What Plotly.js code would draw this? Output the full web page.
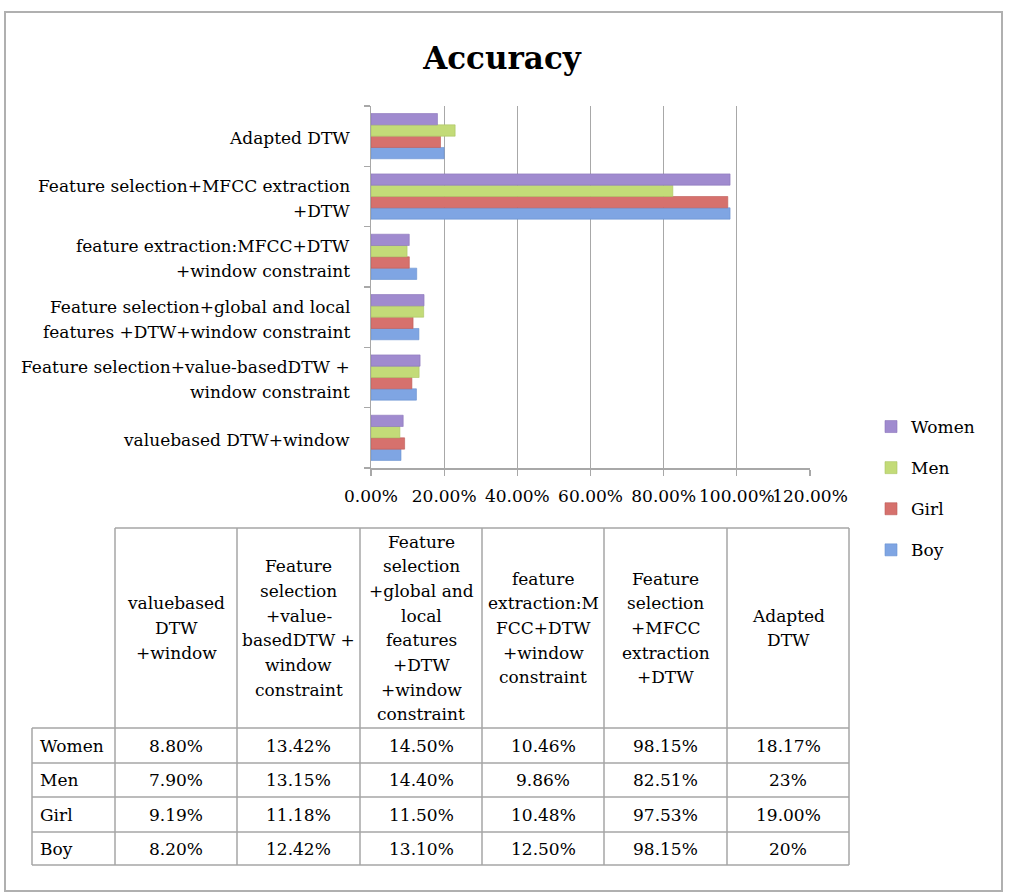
<!DOCTYPE html>
<html><head><meta charset="utf-8">
<script src="https://cdn.plot.ly/plotly-3.0.1.min.js"></script>
<style>html,body{margin:0;padding:0;background:#fff}#chart{width:1012px;height:895px}</style>
</head><body><div id="chart"></div>
<script>
// ---- data ----
const categories = [
  "valuebased DTW+window",
  "Feature selection+value-basedDTW + window constraint",
  "Feature selection+global and local features +DTW+window constraint",
  "feature extraction:MFCC+DTW +window constraint",
  "Feature selection+MFCC extraction +DTW",
  "Adapted DTW"
];
const axisLabels = [
  "valuebased DTW+window",
  "Feature selection+value-basedDTW +<br>window constraint",
  "Feature selection+global and local<br>features +DTW+window constraint",
  "feature extraction:MFCC+DTW<br>+window constraint",
  "Feature selection+MFCC extraction<br>+DTW",
  "Adapted DTW"
];
const headerLabels = [
  "valuebased<br>DTW<br>+window",
  "Feature<br>selection<br>+value-<br>basedDTW +<br>window<br>constraint",
  "Feature<br>selection<br>+global and<br>local<br>features<br>+DTW<br>+window<br>constraint",
  "feature<br>extraction:M<br>FCC+DTW<br>+window<br>constraint",
  "Feature<br>selection<br>+MFCC<br>extraction<br>+DTW",
  "Adapted<br>DTW"
];
const seriesNames = ["Women", "Men", "Girl", "Boy"];
const women = ["8.80", "13.42", "14.50", "10.46", "98.15", "18.17"];
const men   = ["7.90", "13.15", "14.40", "9.86", "82.51", "23"];
const girl  = ["9.19", "11.18", "11.50", "10.48", "97.53", "19.00"];
const boy   = ["8.20", "12.42", "13.10", "12.50", "98.15", "20"];
const xTicks = [0, 20, 40, 60, 80, 100, 120];
const xTickLabels = ["0.00%", "20.00%", "40.00%", "60.00%", "80.00%", "100.00%", "120.00%"];

// ---- styling / layout ----
const seriesValues = {Women: women, Men: men, Girl: girl, Boy: boy};
const seriesColors = {Women: "#a08bcf", Men: "#c3db78", Girl: "#d6716d", Boy: "#7fa5e3"};
const seriesLines  = {Women: "#8a74bb", Men: "#aac462", Girl: "#bd5b58", Boy: "#6890d0"};
const FONT = "'DejaVu Serif', serif";
const FS = 17;
const GRID = "#a8a8a8";
const W = 1012, H = 895;
const L = 371, R = 810, T = 106, B = 468;
const px = x => (x - L) / (R - L);
const py = y => (B - y) / (B - T);

// bars: draw Boy first so it sits at the bottom of each group
const traces = seriesNames.slice().reverse().map(name => ({
  type: "bar",
  orientation: "h",
  name: name,
  legendgroup: name,
  legendrank: seriesNames.indexOf(name) + 1,
  y: categories,
  x: seriesValues[name].map(parseFloat),
  marker: {color: seriesColors[name], line: {color: seriesLines[name], width: 0.6}},
  hoverinfo: "x+name"
}));

const shapes = [];
const annotations = [];

// outer frame
shapes.push({type: "rect", xref: "paper", yref: "paper",
  x0: px(5), x1: px(1002), y0: py(891), y1: py(12),
  line: {color: "#b0b0b0", width: 2}, layer: "below"});

// category labels on the y axis
axisLabels.forEach((lab, i) => {
  const lines = lab.split("<br>");
  const n = lines.length;
  lines.forEach((t, k) => {
    annotations.push({xref: "paper", yref: "y", x: px(352), y: categories[i],
      xanchor: "right", yanchor: "middle", showarrow: false, text: t,
      yshift: -2 - (k - (n - 1) / 2) * 25,
      font: {family: FONT, size: FS, color: "#000"}});
  });
});

// data table
const colX = [32, 115, 237, 360, 482, 604, 727, 849];
const rowY = [528, 728, 763, 797, 832, 865];
const tl = {color: "#a6a6a6", width: 1.5};
const hline = (x0, x1, y) => shapes.push({type: "line", xref: "paper", yref: "paper",
  x0: px(x0), x1: px(x1), y0: py(y), y1: py(y), line: tl});
const vline = (x, y0, y1) => shapes.push({type: "line", xref: "paper", yref: "paper",
  x0: px(x), x1: px(x), y0: py(y0), y1: py(y1), line: tl});
hline(colX[1], colX[7], rowY[0]);
for (let r = 1; r < rowY.length; r++) hline(colX[0], colX[7], rowY[r]);
vline(colX[0], rowY[1], rowY[5]);
for (let c = 1; c < colX.length; c++) vline(colX[c], rowY[0], rowY[5]);

const headerMid = (rowY[0] + rowY[1]) / 2;
headerLabels.forEach((lab, i) => {
  const lines = lab.split("<br>");
  const n = lines.length;
  const cx = (colX[i + 1] + colX[i + 2]) / 2;
  lines.forEach((t, k) => {
    annotations.push({xref: "paper", yref: "paper", x: px(cx),
      y: py(headerMid + (k - (n - 1) / 2) * 24.7),
      xanchor: "center", yanchor: "middle", showarrow: false, text: t,
      font: {family: FONT, size: FS, color: "#000"}});
  });
});
seriesNames.forEach((name, r) => {
  const cy = (rowY[r + 1] + rowY[r + 2]) / 2;
  annotations.push({xref: "paper", yref: "paper", x: px(colX[0] + 6), y: py(cy),
    xanchor: "left", yanchor: "middle", showarrow: false, text: name,
    font: {family: FONT, size: FS, color: "#000"}});
  seriesValues[name].forEach((v, c) => {
    const cx = (colX[c + 1] + colX[c + 2]) / 2;
    annotations.push({xref: "paper", yref: "paper", x: px(cx), y: py(cy),
      xanchor: "center", yanchor: "middle", showarrow: false, text: v + "%",
      font: {family: FONT, size: FS, color: "#000"}});
  });
});

const layout = {
  width: W, height: H,
  font: {family: FONT, size: FS, color: "#000"},
  paper_bgcolor: "#fff", plot_bgcolor: "#fff",
  margin: {l: L, r: W - R, t: T, b: H - B, pad: 0},
  title: {text: "<b>Accuracy</b>", x: 502 / W, xanchor: "center", y: 1 - 58 / H, yanchor: "middle",
    font: {family: FONT, size: 31, color: "#000"}},
  barmode: "group", bargap: 0.25, bargroupgap: 0,
  showlegend: true,
  legend: {x: px(871), y: py(409), xanchor: "left", yanchor: "top",
    traceorder: "grouped", tracegroupgap: 16, itemwidth: 30,
    font: {family: FONT, size: FS, color: "#000"}, bgcolor: "rgba(0,0,0,0)"},
  xaxis: {range: [0, 120], tickmode: "array", tickvals: xTicks, ticktext: xTickLabels,
    tickangle: 0,
    showgrid: true, gridcolor: GRID, gridwidth: 1.3,
    showline: true, linecolor: GRID, linewidth: 1.5, zeroline: false,
    ticks: "outside", ticklen: 6, tickcolor: GRID, tickwidth: 1.3,
    ticklabelstandoff: 6,
    tickfont: {family: FONT, size: FS, color: "#000"}, fixedrange: true},
  yaxis: {type: "category", categoryorder: "array", categoryarray: categories,
    showticklabels: false, showgrid: false, zeroline: false,
    showline: true, linecolor: GRID, linewidth: 1.5,
    ticks: "outside", tickson: "boundaries", ticklen: 6, tickcolor: GRID, tickwidth: 1.3,
    fixedrange: true},
  shapes: shapes,
  annotations: annotations
};

Plotly.newPlot("chart", traces, layout, {displayModeBar: false, staticPlot: true});
</script>
</body></html>
